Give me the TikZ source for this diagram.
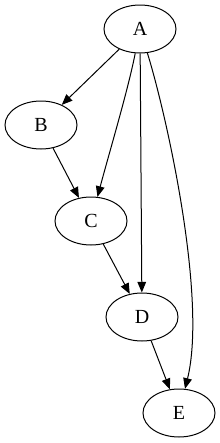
\documentclass[tikz,border=0pt]{standalone}
\usepackage{fontspec}
\setmainfont{Liberation Serif}
\usetikzlibrary{shapes.geometric,arrows.meta}
\begin{document}
\begin{tikzpicture}[x=0.75pt, y=-0.75pt,
  every node/.style={font=\fontsize{15}{17}\selectfont},
  vertex/.style={draw, ellipse, line width=0.75pt, minimum width=54pt, minimum height=36pt, inner sep=0pt},
  edge/.style={line width=0.75pt, -{Triangle[length=8pt, width=6.5pt]}}]
  \useasboundingbox (0,0) rectangle (220,443);
  \node[vertex] (A) at (140,29) {A};
  \node[vertex] (B) at (41,125) {B};
  \node[vertex] (C) at (91,221) {C};
  \node[vertex] (D) at (142,317) {D};
  \node[vertex] (E) at (179,413) {E};
  \draw[edge] (A) -- (B);
  \draw[edge] (B) -- (C);
  \draw[edge] (A) .. controls (128,90) and (110,150) .. (C);
  \draw[edge] (A) -- (D);
  \draw[edge] (A) .. controls (168,120) and (207,300) .. (E);
  \draw[edge] (C) -- (D);
  \draw[edge] (D) -- (E);
\end{tikzpicture}
\end{document}
